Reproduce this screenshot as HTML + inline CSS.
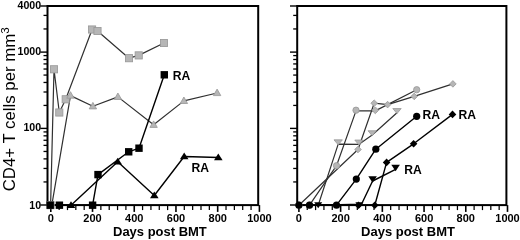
<!DOCTYPE html>
<html><head><meta charset="utf-8"><style>
html,body{margin:0;padding:0;background:#fff;}
svg{display:block;font-family:"Liberation Sans",sans-serif;filter:blur(0.3px);}
</style></head><body>
<svg width="520" height="240" viewBox="0 0 520 240">
<rect width="520" height="240" fill="#fff"/>
<rect x="47.50" y="6.00" width="210.70" height="199.10" fill="none" stroke="#000" stroke-width="2"/>
<line x1="50.80" y1="205.10" x2="50.80" y2="211.90" stroke="#000" stroke-width="1.6"/>
<text transform="translate(50.80,221.80) scale(1.06,1)" font-size="10.4" font-weight="bold" text-anchor="middle">0</text>
<line x1="59.14" y1="205.10" x2="59.14" y2="210.10" stroke="#000" stroke-width="1.25"/>
<line x1="67.49" y1="205.10" x2="67.49" y2="210.10" stroke="#000" stroke-width="1.25"/>
<line x1="75.83" y1="205.10" x2="75.83" y2="210.10" stroke="#000" stroke-width="1.25"/>
<line x1="84.18" y1="205.10" x2="84.18" y2="210.10" stroke="#000" stroke-width="1.25"/>
<line x1="92.52" y1="205.10" x2="92.52" y2="211.90" stroke="#000" stroke-width="1.6"/>
<text transform="translate(92.52,221.80) scale(1.06,1)" font-size="10.4" font-weight="bold" text-anchor="middle">200</text>
<line x1="100.86" y1="205.10" x2="100.86" y2="210.10" stroke="#000" stroke-width="1.25"/>
<line x1="109.21" y1="205.10" x2="109.21" y2="210.10" stroke="#000" stroke-width="1.25"/>
<line x1="117.55" y1="205.10" x2="117.55" y2="210.10" stroke="#000" stroke-width="1.25"/>
<line x1="125.90" y1="205.10" x2="125.90" y2="210.10" stroke="#000" stroke-width="1.25"/>
<line x1="134.24" y1="205.10" x2="134.24" y2="211.90" stroke="#000" stroke-width="1.6"/>
<text transform="translate(134.24,221.80) scale(1.06,1)" font-size="10.4" font-weight="bold" text-anchor="middle">400</text>
<line x1="142.58" y1="205.10" x2="142.58" y2="210.10" stroke="#000" stroke-width="1.25"/>
<line x1="150.93" y1="205.10" x2="150.93" y2="210.10" stroke="#000" stroke-width="1.25"/>
<line x1="159.27" y1="205.10" x2="159.27" y2="210.10" stroke="#000" stroke-width="1.25"/>
<line x1="167.62" y1="205.10" x2="167.62" y2="210.10" stroke="#000" stroke-width="1.25"/>
<line x1="175.96" y1="205.10" x2="175.96" y2="211.90" stroke="#000" stroke-width="1.6"/>
<text transform="translate(175.96,221.80) scale(1.06,1)" font-size="10.4" font-weight="bold" text-anchor="middle">600</text>
<line x1="184.30" y1="205.10" x2="184.30" y2="210.10" stroke="#000" stroke-width="1.25"/>
<line x1="192.65" y1="205.10" x2="192.65" y2="210.10" stroke="#000" stroke-width="1.25"/>
<line x1="200.99" y1="205.10" x2="200.99" y2="210.10" stroke="#000" stroke-width="1.25"/>
<line x1="209.34" y1="205.10" x2="209.34" y2="210.10" stroke="#000" stroke-width="1.25"/>
<line x1="217.68" y1="205.10" x2="217.68" y2="211.90" stroke="#000" stroke-width="1.6"/>
<text transform="translate(217.68,221.80) scale(1.06,1)" font-size="10.4" font-weight="bold" text-anchor="middle">800</text>
<line x1="226.02" y1="205.10" x2="226.02" y2="210.10" stroke="#000" stroke-width="1.25"/>
<line x1="234.37" y1="205.10" x2="234.37" y2="210.10" stroke="#000" stroke-width="1.25"/>
<line x1="242.71" y1="205.10" x2="242.71" y2="210.10" stroke="#000" stroke-width="1.25"/>
<line x1="251.06" y1="205.10" x2="251.06" y2="210.10" stroke="#000" stroke-width="1.25"/>
<line x1="259.40" y1="205.10" x2="259.40" y2="211.90" stroke="#000" stroke-width="1.6"/>
<text transform="translate(259.40,221.80) scale(1.06,1)" font-size="10.4" font-weight="bold" text-anchor="middle">1000</text>
<line x1="47.50" y1="205.00" x2="40.30" y2="205.00" stroke="#000" stroke-width="1.4"/>
<text transform="translate(41.10,209.00) scale(1.02,1)" font-size="10.4" font-weight="bold" text-anchor="end">10</text>
<line x1="47.50" y1="181.94" x2="43.50" y2="181.94" stroke="#000" stroke-width="1.3"/>
<line x1="47.50" y1="168.45" x2="43.50" y2="168.45" stroke="#000" stroke-width="1.3"/>
<line x1="47.50" y1="158.88" x2="43.50" y2="158.88" stroke="#000" stroke-width="1.3"/>
<line x1="47.50" y1="151.46" x2="43.50" y2="151.46" stroke="#000" stroke-width="1.3"/>
<line x1="47.50" y1="145.39" x2="43.50" y2="145.39" stroke="#000" stroke-width="1.3"/>
<line x1="47.50" y1="140.27" x2="43.50" y2="140.27" stroke="#000" stroke-width="1.3"/>
<line x1="47.50" y1="135.82" x2="43.50" y2="135.82" stroke="#000" stroke-width="1.3"/>
<line x1="47.50" y1="131.91" x2="43.50" y2="131.91" stroke="#000" stroke-width="1.3"/>
<line x1="47.50" y1="128.40" x2="40.30" y2="128.40" stroke="#000" stroke-width="1.4"/>
<text transform="translate(41.10,131.10) scale(1.02,1)" font-size="10.4" font-weight="bold" text-anchor="end">100</text>
<line x1="47.50" y1="105.43" x2="43.50" y2="105.43" stroke="#000" stroke-width="1.3"/>
<line x1="47.50" y1="92.00" x2="43.50" y2="92.00" stroke="#000" stroke-width="1.3"/>
<line x1="47.50" y1="82.46" x2="43.50" y2="82.46" stroke="#000" stroke-width="1.3"/>
<line x1="47.50" y1="75.07" x2="43.50" y2="75.07" stroke="#000" stroke-width="1.3"/>
<line x1="47.50" y1="69.03" x2="43.50" y2="69.03" stroke="#000" stroke-width="1.3"/>
<line x1="47.50" y1="63.92" x2="43.50" y2="63.92" stroke="#000" stroke-width="1.3"/>
<line x1="47.50" y1="59.49" x2="43.50" y2="59.49" stroke="#000" stroke-width="1.3"/>
<line x1="47.50" y1="55.59" x2="43.50" y2="55.59" stroke="#000" stroke-width="1.3"/>
<line x1="47.50" y1="52.10" x2="40.30" y2="52.10" stroke="#000" stroke-width="1.4"/>
<text transform="translate(41.10,54.70) scale(1.02,1)" font-size="10.4" font-weight="bold" text-anchor="end">1000</text>
<line x1="47.50" y1="28.95" x2="43.50" y2="28.95" stroke="#000" stroke-width="1.3"/>
<line x1="47.50" y1="15.41" x2="43.50" y2="15.41" stroke="#000" stroke-width="1.3"/>
<line x1="47.50" y1="6.00" x2="40.30" y2="6.00" stroke="#000" stroke-width="1.4"/>
<text transform="translate(41.10,9.00) scale(1.02,1)" font-size="10.4" font-weight="bold" text-anchor="end">4000</text>
<text transform="translate(159.90,235.90) scale(1.065,1)" font-size="12.2" font-weight="bold" text-anchor="middle">Days post BMT</text>
<rect x="297.20" y="6.00" width="209.20" height="199.10" fill="none" stroke="#000" stroke-width="2"/>
<line x1="298.90" y1="205.10" x2="298.90" y2="211.90" stroke="#000" stroke-width="1.6"/>
<text transform="translate(298.90,221.80) scale(1.06,1)" font-size="10.4" font-weight="bold" text-anchor="middle">0</text>
<line x1="307.24" y1="205.10" x2="307.24" y2="210.10" stroke="#000" stroke-width="1.25"/>
<line x1="315.59" y1="205.10" x2="315.59" y2="210.10" stroke="#000" stroke-width="1.25"/>
<line x1="323.93" y1="205.10" x2="323.93" y2="210.10" stroke="#000" stroke-width="1.25"/>
<line x1="332.28" y1="205.10" x2="332.28" y2="210.10" stroke="#000" stroke-width="1.25"/>
<line x1="340.62" y1="205.10" x2="340.62" y2="211.90" stroke="#000" stroke-width="1.6"/>
<text transform="translate(340.62,221.80) scale(1.06,1)" font-size="10.4" font-weight="bold" text-anchor="middle">200</text>
<line x1="348.96" y1="205.10" x2="348.96" y2="210.10" stroke="#000" stroke-width="1.25"/>
<line x1="357.31" y1="205.10" x2="357.31" y2="210.10" stroke="#000" stroke-width="1.25"/>
<line x1="365.65" y1="205.10" x2="365.65" y2="210.10" stroke="#000" stroke-width="1.25"/>
<line x1="374.00" y1="205.10" x2="374.00" y2="210.10" stroke="#000" stroke-width="1.25"/>
<line x1="382.34" y1="205.10" x2="382.34" y2="211.90" stroke="#000" stroke-width="1.6"/>
<text transform="translate(382.34,221.80) scale(1.06,1)" font-size="10.4" font-weight="bold" text-anchor="middle">400</text>
<line x1="390.68" y1="205.10" x2="390.68" y2="210.10" stroke="#000" stroke-width="1.25"/>
<line x1="399.03" y1="205.10" x2="399.03" y2="210.10" stroke="#000" stroke-width="1.25"/>
<line x1="407.37" y1="205.10" x2="407.37" y2="210.10" stroke="#000" stroke-width="1.25"/>
<line x1="415.72" y1="205.10" x2="415.72" y2="210.10" stroke="#000" stroke-width="1.25"/>
<line x1="424.06" y1="205.10" x2="424.06" y2="211.90" stroke="#000" stroke-width="1.6"/>
<text transform="translate(424.06,221.80) scale(1.06,1)" font-size="10.4" font-weight="bold" text-anchor="middle">600</text>
<line x1="432.40" y1="205.10" x2="432.40" y2="210.10" stroke="#000" stroke-width="1.25"/>
<line x1="440.75" y1="205.10" x2="440.75" y2="210.10" stroke="#000" stroke-width="1.25"/>
<line x1="449.09" y1="205.10" x2="449.09" y2="210.10" stroke="#000" stroke-width="1.25"/>
<line x1="457.44" y1="205.10" x2="457.44" y2="210.10" stroke="#000" stroke-width="1.25"/>
<line x1="465.78" y1="205.10" x2="465.78" y2="211.90" stroke="#000" stroke-width="1.6"/>
<text transform="translate(465.78,221.80) scale(1.06,1)" font-size="10.4" font-weight="bold" text-anchor="middle">800</text>
<line x1="474.12" y1="205.10" x2="474.12" y2="210.10" stroke="#000" stroke-width="1.25"/>
<line x1="482.47" y1="205.10" x2="482.47" y2="210.10" stroke="#000" stroke-width="1.25"/>
<line x1="490.81" y1="205.10" x2="490.81" y2="210.10" stroke="#000" stroke-width="1.25"/>
<line x1="499.16" y1="205.10" x2="499.16" y2="210.10" stroke="#000" stroke-width="1.25"/>
<line x1="507.50" y1="205.10" x2="507.50" y2="211.90" stroke="#000" stroke-width="1.6"/>
<text transform="translate(507.50,221.80) scale(1.06,1)" font-size="10.4" font-weight="bold" text-anchor="middle">1000</text>
<line x1="297.20" y1="205.00" x2="290.00" y2="205.00" stroke="#000" stroke-width="1.4"/>
<line x1="297.20" y1="181.94" x2="293.20" y2="181.94" stroke="#000" stroke-width="1.3"/>
<line x1="297.20" y1="168.45" x2="293.20" y2="168.45" stroke="#000" stroke-width="1.3"/>
<line x1="297.20" y1="158.88" x2="293.20" y2="158.88" stroke="#000" stroke-width="1.3"/>
<line x1="297.20" y1="151.46" x2="293.20" y2="151.46" stroke="#000" stroke-width="1.3"/>
<line x1="297.20" y1="145.39" x2="293.20" y2="145.39" stroke="#000" stroke-width="1.3"/>
<line x1="297.20" y1="140.27" x2="293.20" y2="140.27" stroke="#000" stroke-width="1.3"/>
<line x1="297.20" y1="135.82" x2="293.20" y2="135.82" stroke="#000" stroke-width="1.3"/>
<line x1="297.20" y1="131.91" x2="293.20" y2="131.91" stroke="#000" stroke-width="1.3"/>
<line x1="297.20" y1="128.40" x2="290.00" y2="128.40" stroke="#000" stroke-width="1.4"/>
<line x1="297.20" y1="105.43" x2="293.20" y2="105.43" stroke="#000" stroke-width="1.3"/>
<line x1="297.20" y1="92.00" x2="293.20" y2="92.00" stroke="#000" stroke-width="1.3"/>
<line x1="297.20" y1="82.46" x2="293.20" y2="82.46" stroke="#000" stroke-width="1.3"/>
<line x1="297.20" y1="75.07" x2="293.20" y2="75.07" stroke="#000" stroke-width="1.3"/>
<line x1="297.20" y1="69.03" x2="293.20" y2="69.03" stroke="#000" stroke-width="1.3"/>
<line x1="297.20" y1="63.92" x2="293.20" y2="63.92" stroke="#000" stroke-width="1.3"/>
<line x1="297.20" y1="59.49" x2="293.20" y2="59.49" stroke="#000" stroke-width="1.3"/>
<line x1="297.20" y1="55.59" x2="293.20" y2="55.59" stroke="#000" stroke-width="1.3"/>
<line x1="297.20" y1="52.10" x2="290.00" y2="52.10" stroke="#000" stroke-width="1.4"/>
<line x1="297.20" y1="28.95" x2="293.20" y2="28.95" stroke="#000" stroke-width="1.3"/>
<line x1="297.20" y1="15.41" x2="293.20" y2="15.41" stroke="#000" stroke-width="1.3"/>
<line x1="297.20" y1="6.00" x2="290.00" y2="6.00" stroke="#000" stroke-width="1.4"/>
<text transform="translate(408.00,235.90) scale(1.065,1)" font-size="12.2" font-weight="bold" text-anchor="middle">Days post BMT</text>
<polyline points="50.60,205.20 54.00,69.30 59.30,112.50 65.70,99.30 92.10,29.50 97.50,31.00 129.00,58.20 138.70,55.40 164.00,43.00" fill="none" stroke="#303030" stroke-width="1.2" stroke-linejoin="round"/>
<polyline points="51.80,205.20 70.50,95.60 92.90,106.30 117.90,96.90 153.60,124.80 183.90,100.90 217.10,93.00" fill="none" stroke="#303030" stroke-width="1.2" stroke-linejoin="round"/>
<polyline points="50.20,205.20 59.40,205.20 92.60,205.20 98.00,174.60 128.70,151.80 139.00,148.20 164.30,74.80" fill="none" stroke="#000" stroke-width="1.4" stroke-linejoin="round"/>
<polyline points="50.60,205.20 71.00,205.20 117.70,161.70 154.30,195.50 184.20,156.50 218.30,157.50" fill="none" stroke="#000" stroke-width="1.4" stroke-linejoin="round"/>
<rect x="47.00" y="201.60" width="7.2" height="7.2" fill="#b6b6b6" stroke="#979797" stroke-width="0.8"/>
<rect x="50.40" y="65.70" width="7.2" height="7.2" fill="#b6b6b6" stroke="#979797" stroke-width="0.8"/>
<rect x="55.70" y="108.90" width="7.2" height="7.2" fill="#b6b6b6" stroke="#979797" stroke-width="0.8"/>
<rect x="62.10" y="95.70" width="7.2" height="7.2" fill="#b6b6b6" stroke="#979797" stroke-width="0.8"/>
<rect x="88.50" y="25.90" width="7.2" height="7.2" fill="#b6b6b6" stroke="#979797" stroke-width="0.8"/>
<rect x="93.90" y="27.40" width="7.2" height="7.2" fill="#b6b6b6" stroke="#979797" stroke-width="0.8"/>
<rect x="125.40" y="54.60" width="7.2" height="7.2" fill="#b6b6b6" stroke="#979797" stroke-width="0.8"/>
<rect x="135.10" y="51.80" width="7.2" height="7.2" fill="#b6b6b6" stroke="#979797" stroke-width="0.8"/>
<rect x="160.40" y="39.40" width="7.2" height="7.2" fill="#b6b6b6" stroke="#979797" stroke-width="0.8"/>
<polygon points="70.50,91.70 66.80,98.20 74.20,98.20" fill="#b6b6b6" stroke="#979797" stroke-width="0.8"/>
<polygon points="92.90,102.40 89.20,108.90 96.60,108.90" fill="#b6b6b6" stroke="#979797" stroke-width="0.8"/>
<polygon points="117.90,93.00 114.20,99.50 121.60,99.50" fill="#b6b6b6" stroke="#979797" stroke-width="0.8"/>
<polygon points="153.60,120.90 149.90,127.40 157.30,127.40" fill="#b6b6b6" stroke="#979797" stroke-width="0.8"/>
<polygon points="183.90,97.00 180.20,103.50 187.60,103.50" fill="#b6b6b6" stroke="#979797" stroke-width="0.8"/>
<polygon points="217.10,89.10 213.40,95.60 220.80,95.60" fill="#b6b6b6" stroke="#979797" stroke-width="0.8"/>
<rect x="46.50" y="201.50" width="7.4" height="7.4" fill="#000"/>
<rect x="55.70" y="201.50" width="7.4" height="7.4" fill="#000"/>
<rect x="88.90" y="201.50" width="7.4" height="7.4" fill="#000"/>
<rect x="94.30" y="170.90" width="7.4" height="7.4" fill="#000"/>
<rect x="125.00" y="148.10" width="7.4" height="7.4" fill="#000"/>
<rect x="135.30" y="144.50" width="7.4" height="7.4" fill="#000"/>
<rect x="160.60" y="71.10" width="7.4" height="7.4" fill="#000"/>
<polygon points="71.00,201.18 66.70,207.88 75.30,207.88" fill="#000"/>
<polygon points="117.70,157.68 113.40,164.38 122.00,164.38" fill="#000"/>
<polygon points="154.30,191.48 150.00,198.18 158.60,198.18" fill="#000"/>
<polygon points="184.20,152.48 179.90,159.18 188.50,159.18" fill="#000"/>
<polygon points="218.30,153.48 214.00,160.18 222.60,160.18" fill="#000"/>
<text transform="translate(172.80,79.60) scale(0.98,1)" font-size="12.4" font-weight="bold" text-anchor="start">RA</text>
<text transform="translate(191.60,171.60) scale(0.98,1)" font-size="12.4" font-weight="bold" text-anchor="start">RA</text>
<polyline points="298.90,205.20 309.50,205.20 336.50,165.70 356.00,110.90 375.20,110.90 416.70,89.70" fill="none" stroke="#303030" stroke-width="1.2" stroke-linejoin="round"/>
<polyline points="298.90,205.20 358.00,149.50 374.20,103.20 387.60,104.60 414.20,96.40 452.90,83.90" fill="none" stroke="#303030" stroke-width="1.2" stroke-linejoin="round"/>
<polyline points="318.20,205.20 338.20,144.10 359.00,144.30 372.20,135.00 397.00,112.80" fill="none" stroke="#303030" stroke-width="1.2" stroke-linejoin="round"/>
<polyline points="298.90,205.20 309.50,205.20 336.50,205.20 356.30,179.10 375.80,149.20 416.70,116.30" fill="none" stroke="#000" stroke-width="1.4" stroke-linejoin="round"/>
<polyline points="298.90,205.20 358.50,205.20 374.80,205.20 386.60,162.40 413.60,143.80 452.50,114.40" fill="none" stroke="#000" stroke-width="1.4" stroke-linejoin="round"/>
<polyline points="318.20,205.20 361.50,204.20 372.60,181.00 395.60,169.40" fill="none" stroke="#000" stroke-width="1.4" stroke-linejoin="round"/>
<circle cx="298.90" cy="205.20" r="3.15" fill="#b6b6b6" stroke="#979797" stroke-width="0.8"/>
<circle cx="309.50" cy="205.20" r="3.15" fill="#b6b6b6" stroke="#979797" stroke-width="0.8"/>
<circle cx="336.50" cy="165.70" r="3.15" fill="#b6b6b6" stroke="#979797" stroke-width="0.8"/>
<circle cx="356.00" cy="110.20" r="3.15" fill="#b6b6b6" stroke="#979797" stroke-width="0.8"/>
<circle cx="416.70" cy="89.70" r="3.15" fill="#b6b6b6" stroke="#979797" stroke-width="0.8"/>
<polygon points="375.30,106.90 378.70,110.30 375.30,113.70 371.90,110.30" fill="#b6b6b6" stroke="#979797" stroke-width="0.8"/>
<polygon points="298.90,201.90 302.20,205.20 298.90,208.50 295.60,205.20" fill="#b6b6b6" stroke="#979797" stroke-width="0.8"/>
<polygon points="358.00,146.20 361.30,149.50 358.00,152.80 354.70,149.50" fill="#b6b6b6" stroke="#979797" stroke-width="0.8"/>
<polygon points="374.20,99.90 377.50,103.20 374.20,106.50 370.90,103.20" fill="#b6b6b6" stroke="#979797" stroke-width="0.8"/>
<polygon points="387.60,101.30 390.90,104.60 387.60,107.90 384.30,104.60" fill="#b6b6b6" stroke="#979797" stroke-width="0.8"/>
<polygon points="414.20,93.10 417.50,96.40 414.20,99.70 410.90,96.40" fill="#b6b6b6" stroke="#979797" stroke-width="0.8"/>
<polygon points="452.90,80.60 456.20,83.90 452.90,87.20 449.60,83.90" fill="#b6b6b6" stroke="#979797" stroke-width="0.8"/>
<polygon points="338.20,144.85 334.00,139.85 342.40,139.85" fill="#b6b6b6" stroke="#979797" stroke-width="0.8"/>
<polygon points="359.00,145.05 354.80,140.05 363.20,140.05" fill="#b6b6b6" stroke="#979797" stroke-width="0.8"/>
<polygon points="372.20,135.75 368.00,130.75 376.40,130.75" fill="#b6b6b6" stroke="#979797" stroke-width="0.8"/>
<polygon points="397.00,113.55 392.80,108.55 401.20,108.55" fill="#b6b6b6" stroke="#979797" stroke-width="0.8"/>
<circle cx="298.90" cy="205.20" r="3.6" fill="#000"/>
<circle cx="309.50" cy="205.20" r="3.6" fill="#000"/>
<circle cx="336.50" cy="205.20" r="3.6" fill="#000"/>
<circle cx="356.30" cy="179.10" r="3.6" fill="#000"/>
<circle cx="375.80" cy="149.20" r="3.6" fill="#000"/>
<circle cx="416.70" cy="116.30" r="3.6" fill="#000"/>
<polygon points="298.90,201.40 302.70,205.20 298.90,209.00 295.10,205.20" fill="#000"/>
<polygon points="358.50,201.40 362.30,205.20 358.50,209.00 354.70,205.20" fill="#000"/>
<polygon points="374.80,201.40 378.60,205.20 374.80,209.00 371.00,205.20" fill="#000"/>
<polygon points="386.60,158.60 390.40,162.40 386.60,166.20 382.80,162.40" fill="#000"/>
<polygon points="413.60,140.00 417.40,143.80 413.60,147.60 409.80,143.80" fill="#000"/>
<polygon points="452.50,110.60 456.30,114.40 452.50,118.20 448.70,114.40" fill="#000"/>
<polygon points="318.20,208.20 314.20,202.20 322.20,202.20" fill="#000"/>
<polygon points="359.40,208.20 355.40,202.20 363.40,202.20" fill="#000"/>
<polygon points="372.60,182.75 368.30,176.25 376.90,176.25" fill="#000"/>
<polygon points="395.60,171.16 391.30,164.66 399.90,164.66" fill="#000"/>
<text transform="translate(422.50,118.90) scale(0.98,1)" font-size="12.4" font-weight="bold" text-anchor="start">RA</text>
<text transform="translate(458.50,118.50) scale(0.98,1)" font-size="12.4" font-weight="bold" text-anchor="start">RA</text>
<text transform="translate(404.30,173.80) scale(0.98,1)" font-size="12.4" font-weight="bold" text-anchor="start">RA</text>
<text transform="translate(14.5,191.3) rotate(-90) scale(1.05,1)" font-size="16" font-weight="normal" text-anchor="start">CD4+ T cells per mm<tspan dy="-5.6" font-size="11" dx="0">3</tspan></text>
</svg></body></html>
